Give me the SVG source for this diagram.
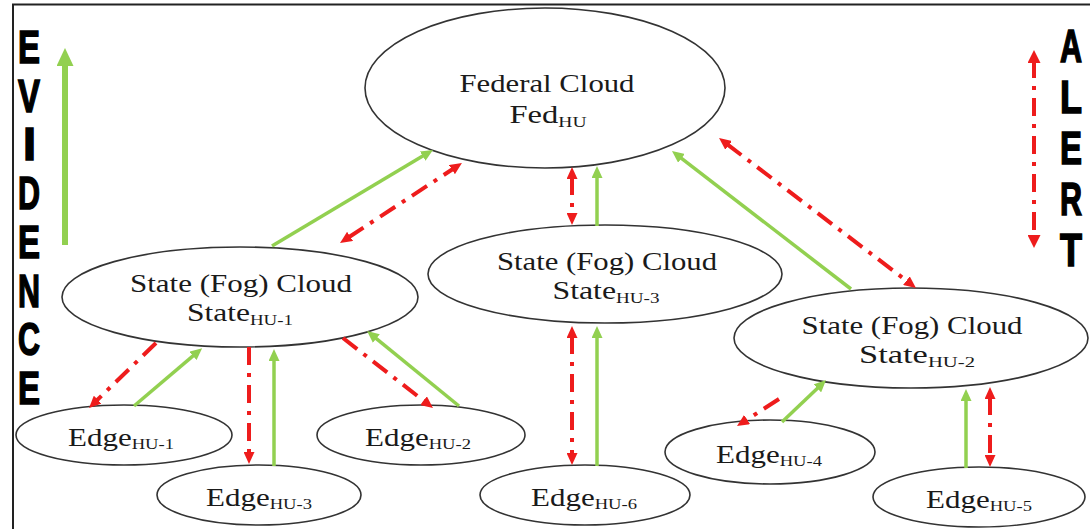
<svg xmlns="http://www.w3.org/2000/svg" width="1092" height="529" viewBox="0 0 1092 529">
  <style>
    .node { fill: #ffffff; stroke: #333333; stroke-width: 1.6; }
    .label { font-family: "Liberation Serif", "Times New Roman", serif; font-size: 25px; fill: #1a1a1a; text-anchor: middle; }
    .sub { font-size: 15px; }
    .ev { stroke: #92d050; stroke-width: 3.5; fill: none; }
    .al { stroke: #ee1c1c; stroke-width: 4; fill: none; stroke-dasharray: 18 8 4 8; }
    .big { font-family: "Liberation Sans", Arial, sans-serif; font-weight: bold; font-size: 47px; fill: #000000; stroke: #000000; stroke-width: 1.6; }
  </style>
  <defs>
    <marker id="headG" markerUnits="userSpaceOnUse" markerWidth="13" markerHeight="11" refX="2" refY="5.5" orient="auto">
      <path d="M0,0 L12,5.5 L0,11 z" fill="#92d050"/>
    </marker>
    <marker id="headR" markerUnits="userSpaceOnUse" markerWidth="13" markerHeight="11" refX="2" refY="5.5" orient="auto-start-reverse">
      <path d="M0,0 L12,5.5 L0,11 z" fill="#ee1c1c"/>
    </marker>
    <marker id="legendG" markerUnits="userSpaceOnUse" markerWidth="19" markerHeight="17" refX="4" refY="8.5" orient="auto">
      <path d="M0,0 L18,8.5 L0,17 z" fill="#92d050"/>
    </marker>
    <marker id="legendR" markerUnits="userSpaceOnUse" markerWidth="14" markerHeight="13" refX="3" refY="6.5" orient="auto-start-reverse">
      <path d="M0,0 L13,6.5 L0,13 z" fill="#ee1c1c"/>
    </marker>
  </defs>

  <rect width="1092" height="529" fill="#ffffff"/>
  <!-- frame -->
  <path d="M13,529 L13,4.5 L1090,4.5" fill="none" stroke="#222222" stroke-width="2"/>

  <!-- side captions -->
  <g id="evidence-caption">
    <text class="big" x="18" y="63" textLength="22" lengthAdjust="spacingAndGlyphs">E</text>
    <text class="big" x="18" y="111.7" textLength="22" lengthAdjust="spacingAndGlyphs">V</text>
    <text class="big" x="23" y="160.4">I</text>
    <text class="big" x="18" y="209.1" textLength="22" lengthAdjust="spacingAndGlyphs">D</text>
    <text class="big" x="18" y="257.8" textLength="22" lengthAdjust="spacingAndGlyphs">E</text>
    <text class="big" x="18" y="306.5" textLength="22" lengthAdjust="spacingAndGlyphs">N</text>
    <text class="big" x="18" y="355.2" textLength="22" lengthAdjust="spacingAndGlyphs">C</text>
    <text class="big" x="18" y="403.9" textLength="22" lengthAdjust="spacingAndGlyphs">E</text>
  </g>
  <g id="alert-caption">
    <text class="big" x="1060" y="62" textLength="22" lengthAdjust="spacingAndGlyphs">A</text>
    <text class="big" x="1060" y="113" textLength="22" lengthAdjust="spacingAndGlyphs">L</text>
    <text class="big" x="1060" y="164" textLength="22" lengthAdjust="spacingAndGlyphs">E</text>
    <text class="big" x="1060" y="215" textLength="22" lengthAdjust="spacingAndGlyphs">R</text>
    <text class="big" x="1060" y="266" textLength="22" lengthAdjust="spacingAndGlyphs">T</text>
  </g>

  <!-- nodes -->
  <g id="fed">
    <ellipse class="node" cx="545" cy="88" rx="180" ry="80"/>
    <text class="label" x="547" y="92" textLength="175" lengthAdjust="spacingAndGlyphs">Federal Cloud</text>
    <text class="label" x="548" y="123" textLength="77" lengthAdjust="spacingAndGlyphs">Fed<tspan class="sub" dy="4">HU</tspan></text>
  </g>
  <g id="state-hu-1">
    <ellipse class="node" cx="240" cy="297" rx="178" ry="50"/>
    <text class="label" x="241" y="292" textLength="222" lengthAdjust="spacingAndGlyphs">State (Fog) Cloud</text>
    <text class="label" x="240" y="321" textLength="106" lengthAdjust="spacingAndGlyphs">State<tspan class="sub" dy="4">HU-1</tspan></text>
  </g>
  <g id="state-hu-3">
    <ellipse class="node" cx="605" cy="274" rx="177" ry="49"/>
    <text class="label" x="607" y="270" textLength="220" lengthAdjust="spacingAndGlyphs">State (Fog) Cloud</text>
    <text class="label" x="606" y="299" textLength="107" lengthAdjust="spacingAndGlyphs">State<tspan class="sub" dy="4">HU-3</tspan></text>
  </g>
  <g id="state-hu-2">
    <ellipse class="node" cx="911" cy="338" rx="177" ry="50"/>
    <text class="label" x="912" y="334" textLength="221" lengthAdjust="spacingAndGlyphs">State (Fog) Cloud</text>
    <text class="label" x="917" y="363" textLength="116" lengthAdjust="spacingAndGlyphs">State<tspan class="sub" dy="4">HU-2</tspan></text>
  </g>
  <g id="edge-hu-1">
    <ellipse class="node" cx="124" cy="435" rx="108" ry="30"/>
    <text class="label" x="121" y="446" textLength="106" lengthAdjust="spacingAndGlyphs">Edge<tspan class="sub" dy="3">HU-1</tspan></text>
  </g>
  <g id="edge-hu-2">
    <ellipse class="node" cx="421" cy="435" rx="104" ry="30"/>
    <text class="label" x="418" y="446" textLength="106" lengthAdjust="spacingAndGlyphs">Edge<tspan class="sub" dy="3">HU-2</tspan></text>
  </g>
  <g id="edge-hu-3">
    <ellipse class="node" cx="259" cy="495" rx="102" ry="30"/>
    <text class="label" x="259" y="506" textLength="106" lengthAdjust="spacingAndGlyphs">Edge<tspan class="sub" dy="3">HU-3</tspan></text>
  </g>
  <g id="edge-hu-6">
    <ellipse class="node" cx="585" cy="495" rx="105" ry="30"/>
    <text class="label" x="584" y="506" textLength="106" lengthAdjust="spacingAndGlyphs">Edge<tspan class="sub" dy="3">HU-6</tspan></text>
  </g>
  <g id="edge-hu-4">
    <ellipse class="node" cx="770" cy="452" rx="105" ry="32"/>
    <text class="label" x="769" y="463" textLength="106" lengthAdjust="spacingAndGlyphs">Edge<tspan class="sub" dy="3">HU-4</tspan></text>
  </g>
  <g id="edge-hu-5">
    <ellipse class="node" cx="979" cy="497" rx="106" ry="30"/>
    <text class="label" x="979" y="508" textLength="106" lengthAdjust="spacingAndGlyphs">Edge<tspan class="sub" dy="3">HU-5</tspan></text>
  </g>

  <!-- connectors: green = evidence upward, red dash-dot = alerts -->
  <g id="connectors">
    <!-- legend arrows -->
    <line x1="65" y1="245" x2="65" y2="62" stroke="#92d050" stroke-width="6" marker-end="url(#legendG)"/>
    <line x1="1034" y1="60" x2="1034" y2="238" stroke="#ee1c1c" stroke-width="4" stroke-dasharray="18 8 4 8" marker-start="url(#legendR)" marker-end="url(#legendR)"/>

    <!-- state clouds to federal cloud -->
    <line class="ev" x1="272" y1="246" x2="424.4" y2="155.1" marker-end="url(#headG)"/>
    <line class="al" x1="348.4" y1="237.5" x2="453.6" y2="168.5" marker-start="url(#headR)" marker-end="url(#headR)"/>
    <line class="ev" x1="597" y1="226" x2="597" y2="176" marker-end="url(#headG)"/>
    <line class="al" x1="572" y1="177" x2="572" y2="215" marker-start="url(#headR)" marker-end="url(#headR)"/>
    <line class="ev" x1="851" y1="289" x2="679.9" y2="157.1" marker-end="url(#headG)"/>
    <line class="al" x1="727" y1="144.1" x2="908" y2="281.9" marker-start="url(#headR)" marker-end="url(#headR)"/>

    <!-- edges of state HU-1 -->
    <line class="al" x1="156" y1="343" x2="96.2" y2="401" marker-end="url(#headR)"/>
    <line class="ev" x1="134" y1="406" x2="194.5" y2="354.6" marker-end="url(#headG)"/>
    <line class="al" x1="249" y1="347" x2="249" y2="454" marker-end="url(#headR)"/>
    <line class="ev" x1="274" y1="466" x2="274" y2="359" marker-end="url(#headG)"/>
    <line class="al" x1="343" y1="338" x2="425.1" y2="401.9" marker-end="url(#headR)"/>
    <line class="ev" x1="459" y1="406" x2="374.8" y2="337.3" marker-end="url(#headG)"/>

    <!-- edge of state HU-3 -->
    <line class="al" x1="572" y1="336" x2="572" y2="455" marker-start="url(#headR)" marker-end="url(#headR)"/>
    <line class="ev" x1="597" y1="466" x2="597" y2="336" marker-end="url(#headG)"/>

    <!-- edges of state HU-2 -->
    <line class="al" x1="779" y1="399" x2="745.4" y2="420.6" marker-end="url(#headR)"/>
    <line class="ev" x1="782" y1="422" x2="818.8" y2="387" marker-end="url(#headG)"/>
    <line class="ev" x1="966" y1="468" x2="966" y2="399" marker-end="url(#headG)"/>
    <line class="al" x1="990" y1="397" x2="990" y2="457" marker-start="url(#headR)" marker-end="url(#headR)"/>
  </g>
</svg>
